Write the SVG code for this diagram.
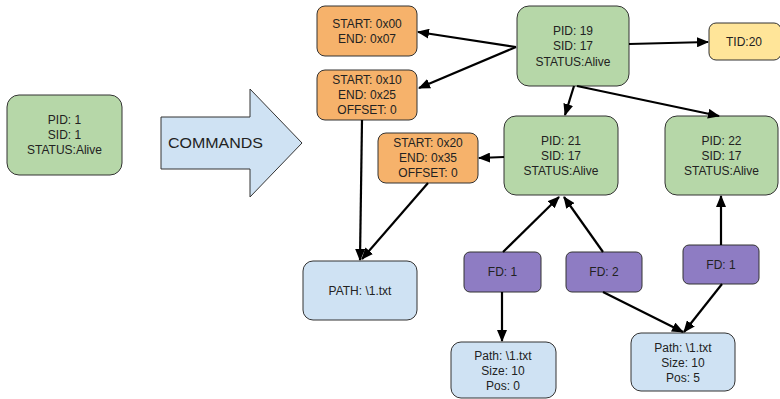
<svg xmlns="http://www.w3.org/2000/svg" width="780" height="399" viewBox="0 0 780 399">
  <style>
    .box { stroke: #333; stroke-width: 1; }
    .green { fill: #b6d7a8; }
    .orange { fill: #f6b26b; }
    .yellow { fill: #ffe599; }
    .blue { fill: #cfe2f3; }
    .purple { fill: #8e7cc3; }
    text { font-family: "Liberation Sans", Arial, sans-serif; font-size: 12px; fill: #222; text-anchor: middle; }
    .edge { stroke: #000; stroke-width: 2.2; fill: none; marker-end: url(#head); }
  </style>
  <defs>
    <marker id="head" viewBox="0 0 12 10" refX="11" refY="5" markerWidth="12" markerHeight="10" markerUnits="userSpaceOnUse" orient="auto">
      <path d="M0,0 L12,5 L0,10 z" fill="#000"/>
    </marker>
  </defs>

  <rect width="780" height="399" fill="#fff"/>

  <!-- initial process -->
  <g id="proc1">
    <rect class="box green" x="7" y="95" width="115" height="80" rx="12"/>
    <text x="64.5" y="124">PID: 1</text>
    <text x="64.5" y="139">SID: 1</text>
    <text x="64.5" y="154">STATUS:Alive</text>
  </g>

  <!-- big arrow -->
  <g id="commands">
    <path class="box blue" d="M161,117 H250 V89 L302,143 L250,197 V169 H161 Z"/>
    <text x="168" y="148" style="text-anchor:start;font-size:14px" textLength="95" lengthAdjust="spacingAndGlyphs">COMMANDS</text>
  </g>

  <!-- memory regions -->
  <g id="mem1">
    <rect class="box orange" x="317" y="6" width="100" height="50" rx="8"/>
    <text x="367" y="28">START: 0x00</text>
    <text x="367" y="43">END: 0x07</text>
  </g>
  <g id="mem2">
    <rect class="box orange" x="317" y="70" width="100" height="50" rx="8"/>
    <text x="367" y="84">START: 0x10</text>
    <text x="367" y="99">END: 0x25</text>
    <text x="367" y="114">OFFSET: 0</text>
  </g>
  <g id="mem3">
    <rect class="box orange" x="378" y="133" width="100" height="50" rx="8"/>
    <text x="428" y="147">START: 0x20</text>
    <text x="428" y="162">END: 0x35</text>
    <text x="428" y="177">OFFSET: 0</text>
  </g>

  <!-- processes -->
  <g id="proc19">
    <rect class="box green" x="517" y="6" width="112" height="80" rx="12"/>
    <text x="573" y="35">PID: 19</text>
    <text x="573" y="50">SID: 17</text>
    <text x="573" y="66">STATUS:Alive</text>
  </g>
  <g id="thread20">
    <rect class="box yellow" x="709" y="23" width="72" height="37" rx="7"/>
    <text x="744" y="46">TID:20</text>
  </g>
  <g id="proc21">
    <rect class="box green" x="504" y="116" width="114" height="79" rx="12"/>
    <text x="561" y="145">PID: 21</text>
    <text x="561" y="160">SID: 17</text>
    <text x="561" y="175">STATUS:Alive</text>
  </g>
  <g id="proc22">
    <rect class="box green" x="665" y="116" width="113" height="79" rx="12"/>
    <text x="721.5" y="145">PID: 22</text>
    <text x="721.5" y="160">SID: 17</text>
    <text x="721.5" y="175">STATUS:Alive</text>
  </g>

  <!-- file path -->
  <g id="path">
    <rect class="box blue" x="303" y="261" width="114" height="59" rx="10"/>
    <text x="360" y="295">PATH: \1.txt</text>
  </g>

  <!-- file descriptors -->
  <g id="fd21a">
    <rect class="box purple" x="464" y="252" width="77" height="40" rx="6"/>
    <text x="502.5" y="276">FD: 1</text>
  </g>
  <g id="fd21b">
    <rect class="box purple" x="566" y="252" width="76" height="40" rx="6"/>
    <text x="604" y="276">FD: 2</text>
  </g>
  <g id="fd22">
    <rect class="box purple" x="683" y="245" width="76" height="39" rx="6"/>
    <text x="721" y="269">FD: 1</text>
  </g>

  <!-- open file entries -->
  <g id="file1">
    <rect class="box blue" x="451" y="342" width="105" height="56" rx="10"/>
    <text x="503" y="360">Path: \1.txt</text>
    <text x="503" y="375">Size: 10</text>
    <text x="503" y="390">Pos: 0</text>
  </g>
  <g id="file2">
    <rect class="box blue" x="631" y="333" width="104" height="58" rx="10"/>
    <text x="683" y="352">Path: \1.txt</text>
    <text x="683" y="367">Size: 10</text>
    <text x="683" y="382">Pos: 5</text>
  </g>

  <!-- connectors -->
  <g id="connectors">
    <path class="edge" d="M516,47 L418,32"/>
    <path class="edge" d="M516,47 L419,88"/>
    <path class="edge" d="M629,44 L708,42"/>
    <path class="edge" d="M574,86 L565,115"/>
    <path class="edge" d="M577,86 L719,116"/>
    <path class="edge" d="M504,157 L479,158"/>
    <path class="edge" d="M362,120 L360,260"/>
    <path class="edge" d="M428,183 L362,259"/>
    <path class="edge" d="M503,252 L559,197"/>
    <path class="edge" d="M603,252 L564,197"/>
    <path class="edge" d="M721,245 L721,196"/>
    <path class="edge" d="M502,292 L502,341"/>
    <path class="edge" d="M603,292 L683,332"/>
    <path class="edge" d="M722,284 L684,332"/>
  </g>
</svg>
